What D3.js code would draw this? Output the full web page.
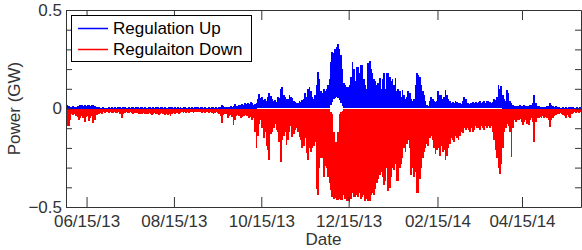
<!DOCTYPE html>
<html>
<head>
<meta charset="utf-8">
<script src="https://cdn.jsdelivr.net/npm/d3@7"></script>
<style>
  body { margin: 0; background: #fff; }
  svg { display: block; font-family: "Liberation Sans", Arial, sans-serif; }
</style>
</head>
<body>
<div id="chart"></div>
<script>
// one value per day starting 2013-06-01, one row per week (GW)
const firstDay = "2013-06-01";
const regUp = [
  0.02,0.015,0.01,0.01,0.012,0.01,0.01,
  0.012,0.015,0.02,0.018,0.015,0.02,0.015,
  0.018,0.02,0.015,0.02,0.018,0.012,0.01,
  0.008,0.006,0.005,0.005,0.006,0.005,0.005,
  0.005,0.006,0.005,0.007,0.005,0.006,0.005,
  0.006,0.008,0.006,0.005,0.006,0.007,0.005,
  0.005,0.006,0.005,0.006,0.007,0.005,0.006,
  0.006,0.005,0.007,0.006,0.005,0.006,0.005,
  0.005,0.007,0.006,0.005,0.006,0.005,0.007,
  0.006,0.005,0.006,0.007,0.005,0.006,0.005,
  0.005,0.006,0.008,0.006,0.005,0.006,0.005,
  0.006,0.005,0.006,0.005,0.007,0.006,0.005,
  0.005,0.006,0.005,0.006,0.005,0.007,0.006,
  0.006,0.005,0.007,0.006,0.005,0.006,0.005,
  0.005,0.006,0.005,0.007,0.006,0.005,0.006,
  0.005,0.006,0.008,0.02,0.012,0.006,0.008,
  0.008,0.01,0.012,0.01,0.015,0.022,0.012,
  0.015,0.02,0.018,0.025,0.02,0.03,0.025,
  0.03,0.025,0.035,0.03,0.02,0.025,0.03,
  0.05,0.073,0.055,0.06,0.045,0.05,0.04,
  0.06,0.077,0.065,0.05,0.04,0.045,0.035,
  0.06,0.055,0.1,0.108,0.07,0.06,0.05,
  0.05,0.068,0.06,0.055,0.04,0.035,0.03,
  0.03,0.04,0.035,0.045,0.05,0.08,0.06,
  0.1,0.107,0.09,0.06,0.05,0.07,0.12,
  0.186,0.15,0.09,0.08,0.1,0.09,0.1,
  0.12,0.15,0.237,0.288,0.28,0.3,0.31,
  0.327,0.3,0.27,0.2,0.13,0.12,0.11,
  0.11,0.12,0.16,0.237,0.2,0.14,0.21,
  0.21,0.18,0.22,0.22,0.15,0.12,0.1,
  0.23,0.24,0.2,0.18,0.15,0.14,0.12,
  0.13,0.155,0.1,0.15,0.18,0.1,0.18,
  0.18,0.16,0.14,0.15,0.12,0.156,0.09,
  0.1,0.09,0.06,0.093,0.07,0.05,0.06,
  0.09,0.08,0.05,0.04,0.05,0.12,0.18,
  0.17,0.16,0.12,0.09,0.07,0.04,0.02,
  0.015,0.04,0.06,0.05,0.04,0.035,0.04,
  0.09,0.07,0.07,0.05,0.06,0.093,0.07,
  0.05,0.04,0.03,0.035,0.03,0.04,0.035,
  0.03,0.03,0.025,0.04,0.06,0.05,0.03,
  0.03,0.025,0.03,0.035,0.03,0.035,0.03,
  0.035,0.04,0.03,0.035,0.04,0.03,0.04,
  0.04,0.035,0.03,0.035,0.05,0.045,0.06,
  0.12,0.1,0.115,0.07,0.05,0.04,0.093,
  0.08,0.04,0.03,0.02,0.015,0.015,0.012,
  0.015,0.02,0.015,0.012,0.02,0.015,0.012,
  0.015,0.02,0.02,0.03,0.068,0.03,0.015,
  0.012,0.01,0.008,0.01,0.01,0.008,0.012,
  0.015,0.026,0.018,0.015,0.01,0.015,0.008,
  0.006,0.005,0.005,0.006,0.005,0.006,0.005,
  0.008,0.01,0.008,0.006,0.005,0.005,0.006,
  0.005,0.006,0.005,0.006,0.005,0.005,0.005
];
const regDown = [
  -0.09,-0.09,-0.06,-0.03,-0.035,-0.03,-0.04,
  -0.045,-0.059,-0.05,-0.04,-0.05,-0.068,-0.045,
  -0.04,-0.062,-0.05,-0.04,-0.072,-0.06,-0.035,
  -0.035,-0.03,-0.025,-0.03,-0.02,-0.022,-0.02,
  -0.02,-0.025,-0.02,-0.022,-0.025,-0.02,-0.022,
  -0.025,-0.02,-0.03,-0.047,-0.03,-0.025,-0.02,
  -0.022,-0.025,-0.02,-0.025,-0.028,-0.025,-0.022,
  -0.025,-0.03,-0.028,-0.03,-0.025,-0.03,-0.028,
  -0.03,-0.025,-0.03,-0.035,-0.03,-0.025,-0.03,
  -0.03,-0.035,-0.03,-0.025,-0.03,-0.035,-0.03,
  -0.035,-0.03,-0.04,-0.03,-0.025,-0.03,-0.025,
  -0.025,-0.03,-0.025,-0.02,-0.025,-0.02,-0.025,
  -0.02,-0.025,-0.02,-0.02,-0.025,-0.02,-0.02,
  -0.02,-0.018,-0.02,-0.022,-0.02,-0.025,-0.02,
  -0.02,-0.025,-0.02,-0.025,-0.03,-0.025,-0.02,
  -0.025,-0.03,-0.04,-0.076,-0.035,-0.03,-0.03,
  -0.05,-0.04,-0.035,-0.045,-0.084,-0.06,-0.04,
  -0.035,-0.04,-0.05,-0.045,-0.04,-0.035,-0.04,
  -0.04,-0.05,-0.045,-0.06,-0.05,-0.12,-0.2,
  -0.14,-0.08,-0.06,-0.1,-0.15,-0.12,-0.19,
  -0.21,-0.26,-0.13,-0.12,-0.1,-0.08,-0.11,
  -0.118,-0.17,-0.27,-0.16,-0.14,-0.12,-0.186,
  -0.16,-0.12,-0.09,-0.144,-0.13,-0.11,-0.1,
  -0.12,-0.144,-0.16,-0.2,-0.19,-0.15,-0.227,
  -0.26,-0.2,-0.22,-0.2,-0.19,-0.17,-0.41,
  -0.44,-0.3,-0.25,-0.25,-0.35,-0.29,-0.3,
  -0.35,-0.38,-0.415,-0.45,-0.46,-0.456,-0.465,
  -0.465,-0.46,-0.465,-0.465,-0.44,-0.46,-0.47,
  -0.47,-0.473,-0.46,-0.43,-0.45,-0.448,-0.44,
  -0.448,-0.43,-0.46,-0.45,-0.44,-0.47,-0.46,
  -0.47,-0.47,-0.44,-0.43,-0.44,-0.41,-0.38,
  -0.36,-0.34,-0.32,-0.35,-0.39,-0.37,-0.3,
  -0.42,-0.405,-0.35,-0.3,-0.31,-0.28,-0.37,
  -0.37,-0.3,-0.28,-0.25,-0.2,-0.22,-0.18,
  -0.16,-0.2,-0.34,-0.3,-0.35,-0.32,-0.43,
  -0.43,-0.36,-0.3,-0.25,-0.22,-0.2,-0.18,
  -0.19,-0.15,-0.14,-0.16,-0.2,-0.23,-0.21,
  -0.2,-0.24,-0.19,-0.22,-0.21,-0.26,-0.24,
  -0.2,-0.18,-0.15,-0.16,-0.17,-0.14,-0.15,
  -0.16,-0.14,-0.12,-0.125,-0.1,-0.11,-0.1,
  -0.11,-0.12,-0.1,-0.12,-0.11,-0.09,-0.1,
  -0.1,-0.11,-0.09,-0.1,-0.11,-0.09,-0.1,
  -0.09,-0.1,-0.09,-0.12,-0.16,-0.21,-0.25,
  -0.3,-0.33,-0.28,-0.2,-0.12,-0.1,-0.08,
  -0.09,-0.12,-0.245,-0.1,-0.06,-0.07,-0.06,
  -0.06,-0.055,-0.07,-0.085,-0.07,-0.06,-0.08,
  -0.085,-0.06,-0.05,-0.07,-0.17,-0.07,-0.05,
  -0.05,-0.045,-0.05,-0.04,-0.05,-0.045,-0.05,
  -0.06,-0.093,-0.06,-0.05,-0.04,-0.035,-0.03,
  -0.03,-0.025,-0.03,-0.035,-0.04,-0.05,-0.035,
  -0.045,-0.05,-0.03,-0.025,-0.02,-0.025,-0.02,
  -0.025,-0.02,-0.025,-0.02,-0.02,-0.025,-0.02
];
// daily value closest to zero, as runs [first day, last day, GW]; 0 elsewhere
const upFloor = [
  [133,183,0.003],[184,184,0.02],[185,185,0.035],[186,186,0.05],[187,187,0.055],
  [188,188,0.057],[189,189,0.055],[190,190,0.045],[191,191,0.03],[192,192,0.015],
  [193,303,0.003]
];
const downFloor = [
  [133,183,-0.003],[184,184,-0.02],[185,185,-0.03],[186,186,-0.12],[187,187,-0.17],
  [188,188,-0.17],[189,189,-0.12],[190,190,-0.03],[191,191,-0.02],[192,192,-0.015],
  [193,303,-0.003]
];
const xTickDates = ["2013-06-15","2013-08-15","2013-10-15","2013-12-15","2014-02-15","2014-04-15"];
const yTicks = [-0.5,-0.4,-0.3,-0.2,-0.1,0,0.1,0.2,0.3,0.4,0.5];
const yLabeled = [-0.5,0,0.5];
const seriesNames = ["Regulation Up","Regulaiton Down"];
const seriesColors = ["#0000ff","#ff0000"];

const width = 582, height = 250;
const mLeft = 66, mRight = 581, mTop = 10, mBottom = 207;
const axisColor = "#333";

const svg = d3.select("#chart").append("svg")
  .attr("width", width)
  .attr("height", height);

const t0 = d3.utcParse("%Y-%m-%d")(firstDay);
const x = d3.scaleUtc()
  .domain([t0, d3.utcHour.offset(t0, 359 * 24 + 5)])
  .range([mLeft + 0.5, mRight]);
const y = d3.scaleLinear().domain([-0.5, 0.5]).range([mBottom, mTop]);

const dayAt = (i) => d3.utcDay.offset(t0, i);
const floorAt = (runs, i) => {
  const r = runs.find((r) => i >= r[0] && i <= r[1]);
  return r ? r[2] : 0;
};

svg.append("defs").append("clipPath").attr("id", "plot")
  .append("rect")
  .attr("x", mLeft).attr("y", mTop)
  .attr("width", mRight - mLeft).attr("height", mBottom - mTop);

const plot = svg.append("g").attr("clip-path", "url(#plot)");

const drawSeries = (values, runs, color) => {
  plot.append("g")
    .attr("shape-rendering", "crispEdges")
    .selectAll("rect")
    .data(values)
    .join("rect")
    .attr("x", (d, i) => x(dayAt(i)))
    .attr("width", (d, i) => x(dayAt(i + 1)) - x(dayAt(i)) + 0.4)
    .attr("y", (d, i) => y(Math.max(d, floorAt(runs, i))))
    .attr("height", (d, i) => Math.abs(y(d) - y(floorAt(runs, i))))
    .attr("fill", color);
};
drawSeries(regUp, upFloor, seriesColors[0]);
drawSeries(regDown, downFloor, seriesColors[1]);

// axes: box with inward ticks
const xTicks = xTickDates.map((s) => d3.utcParse("%Y-%m-%d")(s));
const fmtY = d3.format("~g");

const styleAxis = (g) => {
  g.selectAll("path, line").attr("stroke", axisColor).attr("stroke-width", 1);
  g.selectAll("text").attr("fill", axisColor).attr("font-size", 17)
    .attr("font-family", '"Liberation Sans", Arial, sans-serif');
};

svg.append("g")
  .attr("transform", `translate(0,${mBottom})`)
  .call(d3.axisBottom(x).tickValues(xTicks).tickFormat(d3.utcFormat("%m/%d/%y"))
    .tickSizeInner(-10).tickSizeOuter(0).tickPadding(8))
  .call(styleAxis);

svg.append("g")
  .attr("transform", `translate(0,${mTop})`)
  .call(d3.axisTop(x).tickValues(xTicks).tickFormat("")
    .tickSizeInner(-10).tickSizeOuter(0))
  .call(styleAxis);

svg.append("g")
  .attr("transform", `translate(${mLeft},0)`)
  .call(d3.axisLeft(y).tickValues(yTicks)
    .tickFormat((v) => yLabeled.includes(v) ? fmtY(v) : "")
    .tickSizeInner(-6).tickSizeOuter(0).tickPadding(4))
  .call(styleAxis);

svg.append("g")
  .attr("transform", `translate(${mRight},0)`)
  .call(d3.axisRight(y).tickValues(yTicks).tickFormat("")
    .tickSizeInner(-6).tickSizeOuter(0))
  .call(styleAxis);

// axis titles
svg.append("text")
  .attr("transform", `translate(20,${(mTop + mBottom) / 2}) rotate(-90)`)
  .attr("text-anchor", "middle")
  .attr("font-size", 17)
  .attr("fill", axisColor)
  .text("Power (GW)");

svg.append("text")
  .attr("x", (mLeft + mRight) / 2)
  .attr("y", 244.5)
  .attr("text-anchor", "middle")
  .attr("font-size", 17)
  .attr("fill", axisColor)
  .text("Date");

// legend
const legend = svg.append("g");
legend.append("rect")
  .attr("x", 71.5).attr("y", 15.5)
  .attr("width", 180).attr("height", 46)
  .attr("fill", "#fff").attr("stroke", "#000").attr("stroke-width", 1);

seriesNames.forEach((name, i) => {
  const yy = 28.5 + i * 21;
  legend.append("line")
    .attr("x1", 78).attr("x2", 108)
    .attr("y1", yy).attr("y2", yy)
    .attr("stroke", seriesColors[i]).attr("stroke-width", 1.5);
  legend.append("text")
    .attr("x", 113).attr("y", yy + 5.5)
    .attr("font-size", 17)
    .attr("fill", "#000")
    .text(name);
});
</script>
</body>
</html>
